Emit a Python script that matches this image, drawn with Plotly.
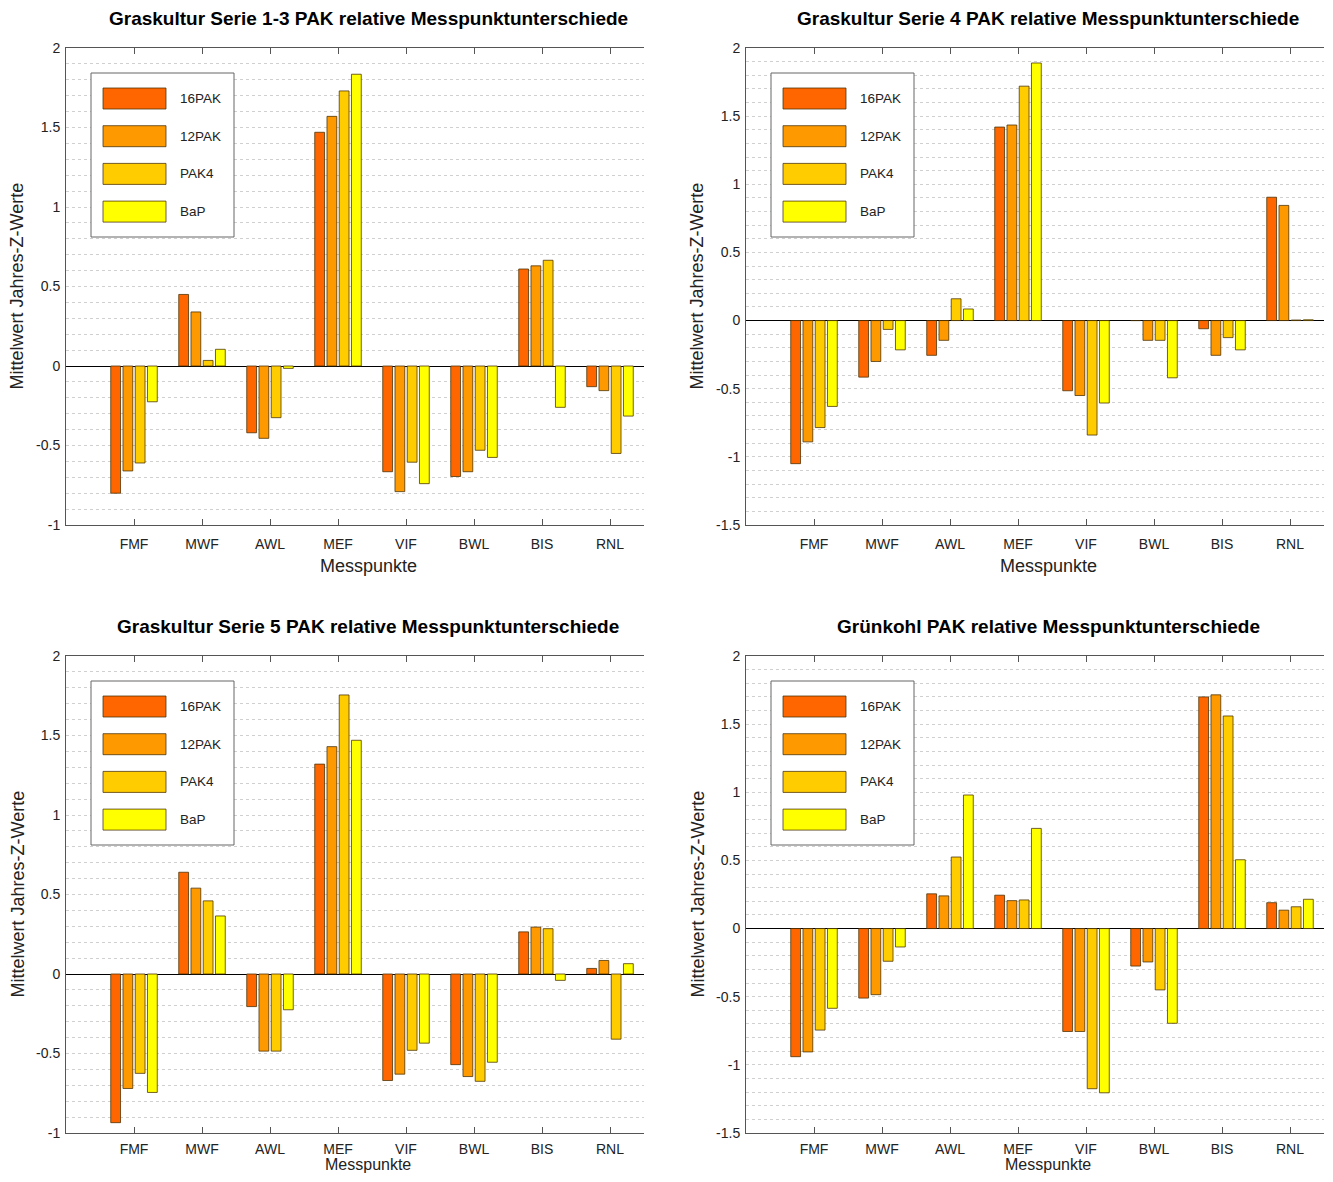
import plotly.graph_objects as go

# ---------------- data ----------------
categories = ["FMF", "MWF", "AWL", "MEF", "VIF", "BWL", "BIS", "RNL"]
series_names = ["16PAK", "12PAK", "PAK4", "BaP"]
series_colors = ["#FF6600", "#FF9900", "#FFCC00", "#FFFF00"]

titles = [
    "Graskultur Serie 1-3 PAK relative Messpunktunterschiede",
    "Graskultur Serie 4 PAK relative Messpunktunterschiede",
    "Graskultur Serie 5 PAK relative Messpunktunterschiede",
    "Grünkohl PAK relative Messpunktunterschiede",
]
x_title = "Messpunkte"
y_title = "Mittelwert Jahres-Z-Werte"

# Graskultur Serie 1-3
s13_16pak = [-0.80, 0.45, -0.42, 1.47, -0.665, -0.695, 0.61, -0.13]
s13_12pak = [-0.66, 0.34, -0.455, 1.57, -0.79, -0.665, 0.63, -0.155]
s13_pak4 = [-0.61, 0.035, -0.325, 1.73, -0.605, -0.53, 0.665, -0.55]
s13_bap = [-0.225, 0.105, -0.015, 1.835, -0.74, -0.575, -0.26, -0.315]

# Graskultur Serie 4
s4_16pak = [-1.05, -0.415, -0.255, 1.42, -0.515, 0.0, -0.06, 0.905]
s4_12pak = [-0.89, -0.30, -0.145, 1.435, -0.55, -0.145, -0.255, 0.845]
s4_pak4 = [-0.785, -0.065, 0.16, 1.72, -0.84, -0.145, -0.125, 0.004]
s4_bap = [-0.63, -0.215, 0.085, 1.89, -0.605, -0.42, -0.215, 0.006]

# Graskultur Serie 5
s5_16pak = [-0.935, 0.64, -0.205, 1.32, -0.67, -0.57, 0.265, 0.035]
s5_12pak = [-0.72, 0.54, -0.485, 1.43, -0.63, -0.645, 0.295, 0.085]
s5_pak4 = [-0.625, 0.46, -0.485, 1.755, -0.48, -0.675, 0.285, -0.41]
s5_bap = [-0.745, 0.365, -0.225, 1.47, -0.435, -0.555, -0.04, 0.065]

# Grünkohl
gk_16pak = [-0.94, -0.51, 0.255, 0.245, -0.755, -0.275, 1.70, 0.19]
gk_12pak = [-0.905, -0.485, 0.24, 0.205, -0.755, -0.245, 1.715, 0.135]
gk_pak4 = [-0.745, -0.24, 0.525, 0.21, -1.175, -0.45, 1.56, 0.16]
gk_bap = [-0.585, -0.135, 0.98, 0.735, -1.205, -0.695, 0.505, 0.215]

yticks_a = [-1, -0.5, 0, 0.5, 1, 1.5, 2]
ytick_labels_a = ["-1", "-0.5", "0", "0.5", "1", "1.5", "2"]
yticks_b = [-1.5, -1, -0.5, 0, 0.5, 1, 1.5, 2]
ytick_labels_b = ["-1.5", "-1", "-0.5", "0", "0.5", "1", "1.5", "2"]
yrange_a = [-1, 2]
yrange_b = [-1.5, 2]

panels = [
    (titles[0], [s13_16pak, s13_12pak, s13_pak4, s13_bap], yrange_a, yticks_a, ytick_labels_a),
    (titles[1], [s4_16pak, s4_12pak, s4_pak4, s4_bap], yrange_b, yticks_b, ytick_labels_b),
    (titles[2], [s5_16pak, s5_12pak, s5_pak4, s5_bap], yrange_a, yticks_a, ytick_labels_a),
    (titles[3], [gk_16pak, gk_12pak, gk_pak4, gk_bap], yrange_b, yticks_b, ytick_labels_b),
]

# ---------------- layout geometry (pixels in the 1333x1182 page) ----------------
PAGE_W, PAGE_H = 1333, 1182
BODY_MARGIN = 8  # default html body margin
W, H = PAGE_W - 2 * BODY_MARGIN, PAGE_H - 2 * BODY_MARGIN
AX_W, AX_H = 578, 477
lefts = [66, 746, 66, 746]
tops = [48, 48, 656, 656]

FONT = "Liberation Sans, Arial, Helvetica, sans-serif"
GRID = "#d0d0d0"
EDGE = "rgba(70,45,0,0.75)"


def px(x):
    return (x - BODY_MARGIN) / W


def py(y):
    return 1 - (y - BODY_MARGIN) / H


fig = go.Figure()
shapes = []
annotations = []
layout_axes = {}

for i, (title, vals, yr, ytv, ytt) in enumerate(panels):
    n = "" if i == 0 else str(i + 1)
    L, T = lefts[i], tops[i]
    bottom_row = T + AX_H + 60 > PAGE_H - BODY_MARGIN
    for name, color, v in zip(series_names, series_colors, vals):
        fig.add_trace(go.Bar(
            x=categories, y=v, name=name, showlegend=False,
            marker=dict(color=color, line=dict(color=EDGE, width=1)),
            xaxis="x" + n, yaxis="y" + n,
        ))
    layout_axes["xaxis" + n] = dict(
        domain=[px(L), px(L + AX_W)], anchor="y" + n,
        type="category", range=[-1, 7.5], automargin=False,
        showline=True, linecolor="#555555", linewidth=1, mirror="ticks",
        ticks="inside", ticklen=6, tickcolor="#555555", tickwidth=1,
        showgrid=False, zeroline=False,
        tickfont=dict(family=FONT, size=14, color="#222222"),
        ticklabelstandoff=3 if bottom_row else 6,
    )
    layout_axes["yaxis" + n] = dict(
        domain=[py(T + AX_H), py(T)], anchor="x" + n,
        range=yr, tickmode="array", tickvals=ytv, ticktext=ytt, automargin=False,
        showline=True, linecolor="#555555", linewidth=1, mirror=False,
        ticks="", showgrid=True, gridcolor=GRID, griddash="dot", gridwidth=1,
        minor=dict(tickmode="linear", tick0=0, dtick=0.1, showgrid=True,
                   gridcolor=GRID, griddash="dot", gridwidth=1),
        zeroline=True, zerolinecolor="#000000", zerolinewidth=1,
        tickfont=dict(family=FONT, size=14, color="#222222"),
        ticklabelstandoff=2,
    )
    # titles
    cx = L + 302
    annotations.append(dict(
        text="<b>" + title + "</b>", x=px(cx), y=py(T - 30), xref="paper", yref="paper",
        showarrow=False, xanchor="center", yanchor="middle",
        font=dict(family=FONT, size=19, color="#000000"),
    ))
    if bottom_row:
        annotations.append(dict(
            text=x_title, x=px(cx), y=py(PAGE_H - BODY_MARGIN), xref="paper", yref="paper",
            showarrow=False, xanchor="center", yanchor="bottom", borderpad=0,
            font=dict(family=FONT, size=16, color="#222222"),
        ))
    else:
        annotations.append(dict(
            text=x_title, x=px(cx), y=py(T + AX_H + 41), xref="paper", yref="paper",
            showarrow=False, xanchor="center", yanchor="middle",
            font=dict(family=FONT, size=18, color="#222222"),
        ))
    annotations.append(dict(
        text=y_title, x=px(L - 49), y=py(T + AX_H / 2), xref="paper", yref="paper",
        showarrow=False, xanchor="center", yanchor="middle", textangle=-90,
        font=dict(family=FONT, size=18, color="#222222"),
    ))
    # custom legend
    shapes.append(dict(
        type="rect", xref="paper", yref="paper",
        x0=px(L + 25), x1=px(L + 168), y0=py(T + 189), y1=py(T + 25),
        line=dict(color="#666666", width=1), fillcolor="white", layer="above",
    ))
    for k, (name, color) in enumerate(zip(series_names, series_colors)):
        y0 = T + 40 + k * 37.7
        shapes.append(dict(
            type="rect", xref="paper", yref="paper",
            x0=px(L + 37), x1=px(L + 100), y0=py(y0 + 21), y1=py(y0),
            line=dict(color=EDGE, width=1), fillcolor=color, layer="above",
        ))
        annotations.append(dict(
            text=name, x=px(L + 112), y=py(y0 + 10.5), xref="paper", yref="paper",
            showarrow=False, xanchor="left", yanchor="middle",
            font=dict(family=FONT, size=13.5, color="#222222"),
        ))

fig.update_layout(
    width=W, height=H,
    margin=dict(l=0, r=0, t=0, b=0, autoexpand=False),
    paper_bgcolor="white", plot_bgcolor="white",
    barmode="group", bargap=0.28, bargroupgap=0.2,
    showlegend=False,
    shapes=shapes, annotations=annotations,
    **layout_axes,
)

fig.write_html("out.html")
